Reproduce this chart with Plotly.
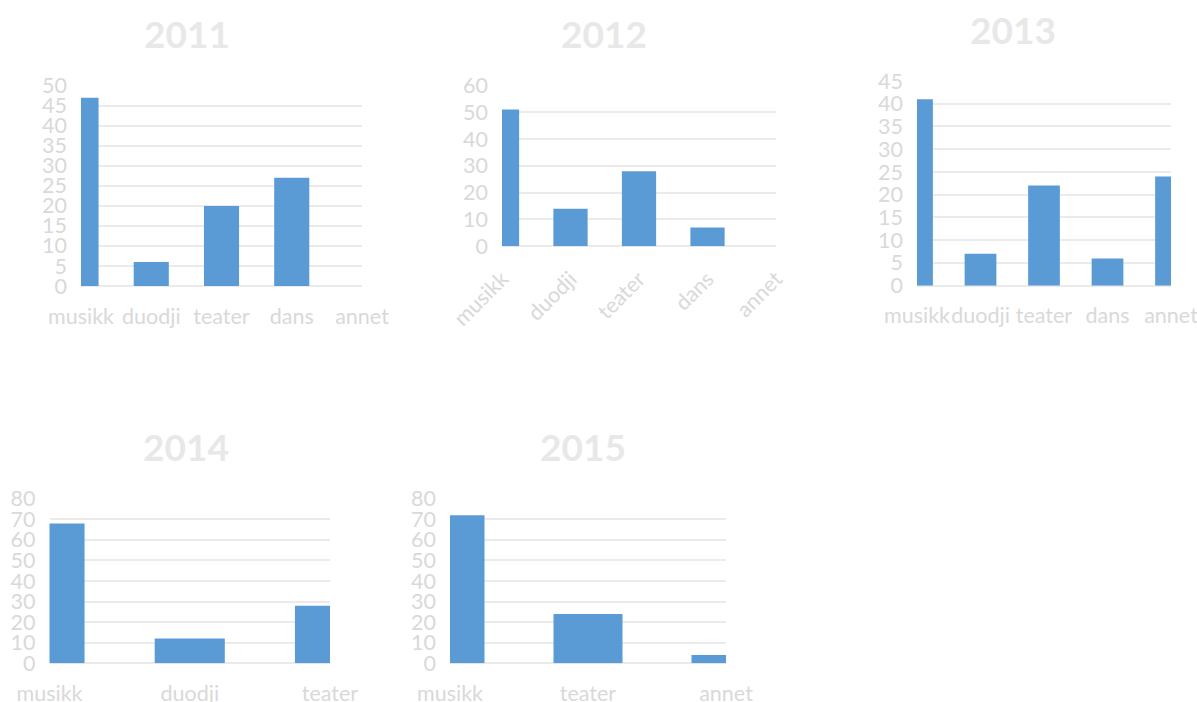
import plotly.graph_objects as go

# ---- data ----
years = ["2011", "2012", "2013", "2014", "2015"]
categories_2011 = ["musikk", "duodji", "teater", "dans", "annet"]
values_2011 = [47, 6, 20, 27, 0]
categories_2012 = ["musikk", "duodji", "teater", "dans", "annet"]
values_2012 = [51, 14, 28, 7, 0]
categories_2013 = ["musikk", "duodji", "teater", "dans", "annet"]
values_2013 = [41, 7, 22, 6, 24]
categories_2014 = ["musikk", "duodji", "teater"]
values_2014 = [68, 12, 28]
categories_2015 = ["musikk", "teater", "annet"]
values_2015 = [72, 24, 4]

y_max = [50, 60, 45, 80, 80]
y_step = [5, 10, 5, 10, 10]

# ---- layout (pixel boxes of plot areas) ----
W, H = 1197, 702
boxes = [  # x0, x1, y_top, y_bottom
    (81, 362, 85.7, 286),
    (502, 776, 85.3, 246.3),
    (917, 1171, 81, 285.7),
    (49.5, 330, 498.7, 663.3),
    (450, 726, 498.7, 663.3),
]
title_pos = [(187, 34), (604, 34), (1013, 30), (186, 447), (583, 447)]
tick_angle = [0, -45, 0, 0, 0]

cats = [categories_2011, categories_2012, categories_2013, categories_2014, categories_2015]
vals = [values_2011, values_2012, values_2013, values_2014, values_2015]

BAR = "#5B9BD5"
TXT = "#D9D9D9"
GRID = "#EBEBEB"
TITLE = "#E8E8E8"
FONT = "Lato"
TICK_SIZE = 21.5

fig = go.Figure()
layout = dict(
    width=W, height=H, margin=dict(l=0, r=0, t=0, b=0, autoexpand=False),
    paper_bgcolor="white", plot_bgcolor="white",
    showlegend=False, font=dict(family=FONT, color=TXT, size=TICK_SIZE),
    annotations=[],
)

for i in range(5):
    n = "" if i == 0 else str(i + 1)
    fig.add_trace(go.Bar(
        x=cats[i], y=vals[i], marker=dict(color=BAR, line=dict(width=0)),
        width=0.5, xaxis="x" + n, yaxis="y" + n, hoverinfo="x+y",
    ))
    x0, x1, yt, yb = boxes[i]
    layout["xaxis" + n] = dict(
        domain=[x0 / W, x1 / W], anchor="y" + n, type="category",
        range=[0, len(cats[i]) - 1], showgrid=False, zeroline=False,
        showline=False, ticks="", tickangle=tick_angle[i], automargin=False,
        ticklabelstandoff=15,
        tickfont=dict(family=FONT, size=TICK_SIZE, color=TXT), fixedrange=True,
    )
    layout["yaxis" + n] = dict(
        domain=[1 - yb / H, 1 - yt / H], anchor="x" + n, automargin=False,
        range=[0, y_max[i]], dtick=y_step[i], tick0=0,
        showgrid=True, gridcolor=GRID, gridwidth=1.5,
        zeroline=True, zerolinecolor=GRID, zerolinewidth=1.5,
        showline=False, ticks="", ticklabelstandoff=13,
        tickfont=dict(family=FONT, size=TICK_SIZE, color=TXT), fixedrange=True,
    )
    tx, ty = title_pos[i]
    layout["annotations"].append(dict(
        text="<b>" + years[i] + "</b>", x=tx / W, y=1 - ty / H,
        xref="paper", yref="paper", xanchor="center", yanchor="middle",
        showarrow=False, font=dict(family=FONT, size=37, color=TITLE),
    ))

fig.update_layout(**layout)
fig.write_html(
    "out.html",
    config={"displayModeBar": False},
    post_script="document.body.style.margin='0';document.body.style.overflow='hidden';",
)
